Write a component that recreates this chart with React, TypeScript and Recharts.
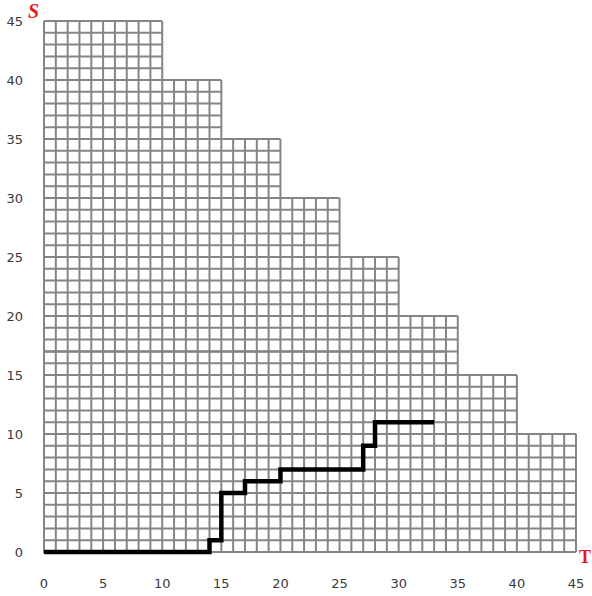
import { LineChart, Line, XAxis, YAxis, ReferenceLine, ReferenceArea } from 'recharts';

// staircase blocks: each block ends at blockEnds[i] (T) and is blockHeights[i] tall (S)
const blockEnds = [10, 15, 20, 25, 30, 35, 40, 45];
const blockHeights = [45, 40, 35, 30, 25, 20, 15, 10];

// darker inner rectangle
const innerT = 34;
const innerS = 17;

// path (step after)
const pathT = [0, 14, 15, 17, 20, 27, 28, 33];
const pathS = [0, 1, 5, 6, 7, 9, 11, 11];

const ticks = [0, 5, 10, 15, 20, 25, 30, 35, 40, 45];

const pathData = pathT.map((t, i) => ({ t, s: pathS[i] }));

// height of the unit column starting at c
const colHeight = (c: number) => {
  for (let i = 0; i < blockEnds.length; i++) {
    if (c < blockEnds[i]) return blockHeights[i];
  }
  return 0;
};

const maxT = blockEnds[blockEnds.length - 1];
const maxS = blockHeights[0];

const vLines: { x: number; top: number }[] = [];
for (let k = 0; k <= maxT; k++) {
  vLines.push({ x: k, top: Math.max(colHeight(k - 1), colHeight(k)) });
}
const hLines: { y: number; right: number }[] = [];
for (let j = 0; j <= maxS; j++) {
  let right = 0;
  for (let c = 0; c < maxT; c++) if (colHeight(c) >= j) right = c + 1;
  hLines.push({ y: j, right });
}

const GRID = '#858585';

export default function App() {
  return (
    <div style={{ position: 'absolute', left: 0, top: 0, width: 592, height: 596, background: '#fff' }}>
      <LineChart width={592} height={596} data={pathData} margin={{ top: 21, right: 16, bottom: 0, left: 14 }}>
        <XAxis
          dataKey="t"
          type="number"
          domain={[0, 45]}
          ticks={ticks}
          axisLine={false}
          tickLine={false}
          tickSize={0}
          tickMargin={27}
          height={44}
          tick={{ fill: '#3a3a3a', fontSize: 13, fontFamily: 'DejaVu Sans' }}
        />
        <YAxis
          type="number"
          domain={[0, 45]}
          ticks={ticks}
          axisLine={false}
          tickLine={false}
          tickSize={0}
          tickMargin={21}
          width={30}
          tick={{ fill: '#3a3a3a', fontSize: 13, fontFamily: 'DejaVu Sans' }}
        />
        {vLines.map((v) => (
          <ReferenceLine
            key={'v' + v.x}
            segment={[{ x: v.x, y: 0 }, { x: v.x, y: v.top }]}
            stroke={GRID}
            strokeWidth={2}
          />
        ))}
        {hLines.map((h) => (
          <ReferenceLine
            key={'h' + h.y}
            segment={[{ x: 0, y: h.y }, { x: h.right, y: h.y }]}
            stroke={GRID}
            strokeWidth={2}
          />
        ))}
        <ReferenceArea x1={0} x2={innerT} y1={0} y2={innerS} fill="none" stroke="#5a5a5a" strokeWidth={2} />
        <Line
          dataKey="s"
          type="stepAfter"
          stroke="#000"
          strokeWidth={4.5}
          dot={false}
          isAnimationActive={false}
        />
      </LineChart>
      <span
        style={{
          position: 'absolute',
          left: 28,
          top: 0,
          color: '#e8191e',
          fontFamily: 'Liberation Serif',
          fontWeight: 'bold',
          fontStyle: 'italic',
          fontSize: 20,
        }}
      >
        S
      </span>
      <span
        style={{
          position: 'absolute',
          left: 579,
          top: 547,
          color: '#e8191e',
          fontFamily: 'Liberation Serif',
          fontWeight: 'bold',
          fontSize: 18,
        }}
      >
        T
      </span>
    </div>
  );
}
